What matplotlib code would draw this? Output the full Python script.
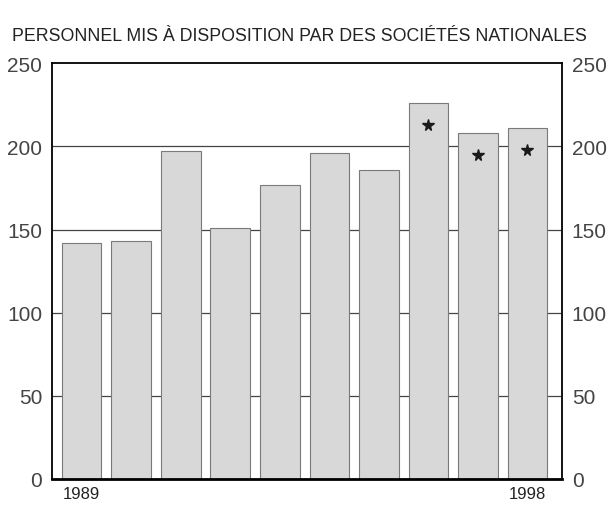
import matplotlib.pyplot as plt

plt.rcParams['font.family'] = ['Liberation Sans', 'DejaVu Sans']

# Données
annees = [1989, 1990, 1991, 1992, 1993, 1994, 1995, 1996, 1997, 1998]
effectifs = [142, 143, 197, 151, 177, 196, 186, 226, 208, 211]
etoiles = [False, False, False, False, False, False, False, True, True, True]
annees_affichees = ["1989", "", "", "", "", "", "", "", "", "1998"]
graduations = [0, 50, 100, 150, 200, 250]

fig = plt.figure(figsize=(6.11, 5.10), dpi=100)
ax = fig.add_axes([0.085, 0.059, 0.835, 0.815])

x = list(range(len(annees)))
for y in graduations[1:-1]:
    ax.axhline(y, color='#444444', linewidth=0.9, zorder=1)
ax.bar(x, effectifs, width=0.8, color='#d8d8d8', edgecolor='#7a7a7a',
       linewidth=0.8, zorder=2)

# Astérisques sur les trois dernières années
xs = [xi for xi, e in zip(x, etoiles) if e]
ys = [v - 13 for v, e in zip(effectifs, etoiles) if e]
ax.plot(xs, ys, linestyle='none', marker='*', markersize=8.5,
        color='#1a1a1a', zorder=3)

ax.set_xlim(-0.6, 9.7)
ax.set_ylim(0, 250)
ax.set_yticks(graduations)
ax.tick_params(axis='y', length=0, labelsize=15, labelcolor='#444444',
               labelleft=True, labelright=True, pad=7)
ax.set_xticks(x)
ax.set_xticklabels(annees_affichees, fontsize=12, color='#222222')
ax.tick_params(axis='x', length=0, pad=5)
for s in ax.spines.values():
    s.set_linewidth(1.3)
ax.spines['bottom'].set_linewidth(2)

fig.text(0.49, 0.928, "PERSONNEL MIS À DISPOSITION PAR DES SOCIÉTÉS NATIONALES",
         ha='center', va='center', fontsize=12.8, color='#222222')

plt.savefig("out.png")
